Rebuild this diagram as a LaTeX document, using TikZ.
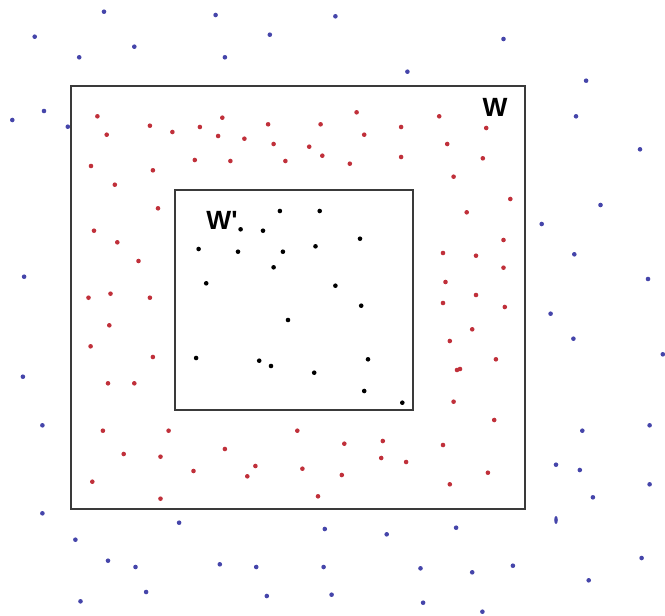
\documentclass[tikz,border=0pt]{standalone}
\usepackage{fontspec}
\setsansfont{Liberation Sans}[Ligatures=TeXOff]
\definecolor{OuterBlue}{HTML}{4545AA}
\definecolor{BandRed}{HTML}{C0303A}
\definecolor{Frame}{HTML}{3A3A3A}

\begin{document}
\begin{tikzpicture}[x=0.02cm,y=-0.02cm,every node/.style={font=\sffamily\bfseries\fontsize{15}{18}\selectfont},window/.style={draw=Frame,line width=0.85pt},bluedot/.style={fill=OuterBlue},reddot/.style={fill=BandRed},blackdot/.style={fill=black}]
\useasboundingbox (0,0) rectangle (665,615);
\newcommand{\plotdots}[2]{\foreach \px/\py in {#2} \fill[#1] (\px,\py) circle (2.3);}
% windows
\draw[window] (71,86) rectangle (525,509);
\draw[window] (175,190) rectangle (413,410);
\node[anchor=center] (w) at (495,107) {W};
\node[anchor=center] (wp) at (222,220) {W'};
% points outside W
\plotdots{bluedot}{104/11.7,215.6/15,335.4/16.3,34.7/36.7,269.8/34.7,134.3/46.7,79.2/57.3,224.9/57.3,503.5/39,407.4/71.7,586.1/80.7,44/111,12.3/120,67.8/126.7,576/116.3,640/149.3,600.5/205,24.1/276.7,22.9/376.7,541.7/224,574.3/254.3,648/279,550.6/313.7,573.4/338.7,662.8/354.3,42.4/425.3,42.4/513.3,75.4/539.7,108/560.7,135.5/567,80.5/601.3,146.1/592,179.1/522.7,219.8/564.3,256.2/567,266.8/596,324.8/529,323.6/567,331.6/594.7,386.7/534.3,420.5/568.3,423.1/602.7,456.1/527.7,472.2/572.3,482.4/611.7,512.9/565.7,556/464.7,579.8/470,592.9/497.3,582.3/430.7,649.6/425.3,649.6/484.3,641.6/558,588.7/580.3}
\fill[OuterBlue] (556,520) ellipse (1.8 and 4);
% points in W minus W'
\plotdots{reddot}{97.4/116.3,106.7/134.7,149.9/125.7,172.4/132,199.9/127,222.3/117.7,218.1/136,244.4/138.7,268.1/124.3,273.6/144,309.2/146.7,320.6/124.3,356.6/112.3,364.2/134.7,401.1/127,439.2/116.3,486.2/128,447.2/144,91/166,152.9/170.3,194.8/160,230.4/161,285.4/161,322.3/155.7,349.8/163.7,401.1/157,482.8/158.3,453.6/176.7,114.8/184.7,510.3/199,158/208.3,94/230.7,117.3/242.3,138.5/261,88.5/297.7,110.5/293.7,149.9/297.7,109.3/325.3,90.6/346.3,152.9/357,108/383.3,134.3/383.3,466.7/212.3,503.5/240,443/253,476/255.7,503.5/267.7,445.5/282,476/295,443/303,504.8/307,472.2/329.3,449.8/341,495.9/359.3,457/370,460/369,453.6/401.7,102.9/430.7,168.6/430.7,123.7/454,160.5/456.7,92.3/481.7,193.5/471,224.9/449,255.4/466,247.3/476.3,297.3/430.7,302.4/468.7,344.3/443.7,341.8/475,318/496.3,160.5/498.7,382.8/441,381.2/458,406.1/462,443/445,449.8/484.3,487.9/472.7,494.2/420}
% points in W'
\plotdots{blackdot}{279.9/211,319.7/211,240.6/229.3,263/230.7,198.6/249,238/251.7,282.9/251.7,315.5/246.3,360/238.7,273.6/267.3,206.2/283.3,335.4/285.7,361.2/305.7,288/320,196.1/358,259.2/360.7,271/366,368/359.3,314.2/372.7,364.2/391,402.3/402.7}
\end{tikzpicture}
\end{document}
